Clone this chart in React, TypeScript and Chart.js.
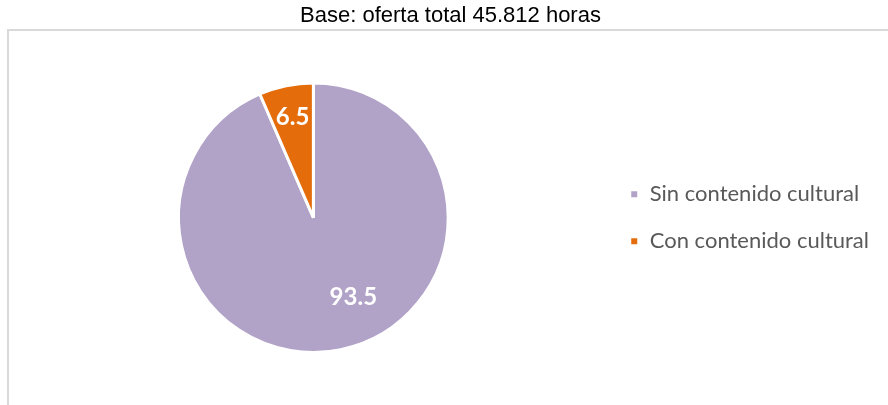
import React, { useEffect, useRef } from "react";
import { Chart, registerables } from "chart.js";

Chart.register(...registerables);

const categories: string[] = ["Sin contenido cultural", "Con contenido cultural"];
const values: number[] = [93.5, 6.5];
const sliceColors: string[] = ["#B1A2C8", "#E46C0A"];
const titleText = "Base: oferta total 45.812 horas";
// label placement (fraction of radius, angle tweak in degrees)
const labelRadii: number[] = [0.66, 0.76];
const labelAngleOffsets: number[] = [-15, 0];

const sliceLabelPlugin = {
  id: "sliceLabels",
  afterDatasetsDraw(chart: any) {
    const meta = chart.getDatasetMeta(0);
    const ctx = chart.ctx;
    ctx.save();
    ctx.font = "bold 24px Lato";
    ctx.fillStyle = "#FFFFFF";
    ctx.textAlign = "center";
    ctx.textBaseline = "middle";
    meta.data.forEach((arc: any, i: number) => {
      const p = arc.getProps(["x", "y", "startAngle", "endAngle", "outerRadius"], true);
      const mid = (p.startAngle + p.endAngle) / 2 + (labelAngleOffsets[i] * Math.PI) / 180;
      const r = p.outerRadius * labelRadii[i];
      const v = chart.data.datasets[0].data[i] as number;
      ctx.fillText(v.toFixed(1), p.x + Math.cos(mid) * r, p.y + Math.sin(mid) * r);
    });
    ctx.restore();
  },
};

function PieChart() {
  const ref = useRef<HTMLCanvasElement | null>(null);
  useEffect(() => {
    if (!ref.current) return;
    const chart = new Chart(ref.current, {
      type: "pie",
      data: {
        labels: categories,
        datasets: [
          {
            data: values,
            backgroundColor: sliceColors,
            borderColor: "#FFFFFF",
            borderWidth: 3,
            hoverOffset: 0,
          },
        ],
      },
      options: {
        responsive: false,
        animation: false,
        layout: { padding: { left: 22, right: 9, top: 0, bottom: 51 } },
        plugins: {
          title: {
            display: true,
            text: titleText,
            color: "#000000",
            font: { family: "'Liberation Sans', Arial, sans-serif", size: 22, weight: "normal" },
            padding: { top: 3, bottom: 52 },
          },
          legend: {
            position: "right",
            align: "center",
            fullSize: false,
            labels: {
              boxWidth: 9,
              boxHeight: 9,
              padding: 25,
              color: "#595959",
              font: { family: "Lato", size: 22 },
            },
          },
          tooltip: { enabled: false },
        },
      },
      plugins: [sliceLabelPlugin],
    });
    return () => chart.destroy();
  }, []);
  return (
    <canvas
      ref={ref}
      width={888}
      height={405}
      style={{ position: "fixed", left: 0, top: 0, width: 888, height: 405, zIndex: 1 }}
    />
  );
}

export default function App() {
  return (
    <div>
      <div
        style={{
          position: "fixed",
          left: 7,
          top: 29,
          width: 1000,
          height: 500,
          border: "2px solid #D9D9D9",
          background: "#FFFFFF",
          zIndex: 0,
        }}
      />
      <PieChart />
    </div>
  );
}
